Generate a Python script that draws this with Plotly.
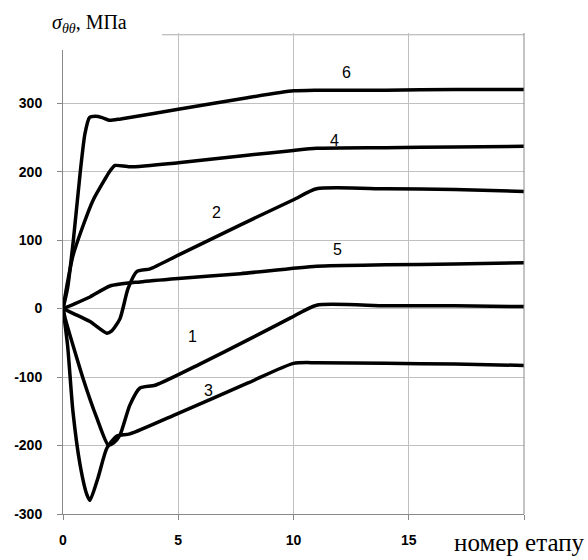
import plotly.graph_objects as go

# Curve data (stage number vs stress, MPa)
x6 = [0, 0.2, 0.45, 0.75, 0.95, 1.15, 1.4, 1.7, 2.0, 2.5, 5, 8, 10, 11, 14, 17, 20]
y6 = [0, 30, 100, 200, 255, 279, 281, 279, 275, 277, 291, 308, 318, 319, 319, 320, 320]

x4 = [0, 0.2, 0.43, 0.87, 1.3, 1.82, 2.04, 2.26, 2.9, 5, 8, 10, 11, 14, 17, 20]
y4 = [0, 39, 77, 121, 158, 189, 201, 209, 207, 213, 224, 231, 234, 235, 236, 237]

x2 = [0, 0.5, 1.17, 1.9, 2.1, 2.47, 2.82, 3.2, 3.78, 5, 7.68, 10, 11, 14, 17, 20]
y2 = [0, -8, -19, -36, -33, -15, 29, 54, 58, 78, 122, 159, 175, 175, 174, 171]

x5 = [0, 0.5, 1.17, 2.04, 3.34, 5, 7.7, 11, 14, 17, 20]
y5 = [0, 7, 17, 33, 39, 44, 51, 62, 64, 65, 67]

x1 = [0, 0.1, 0.87, 1.47, 1.96, 2.2, 2.47, 2.9, 3.34, 4, 6, 8, 9.85, 11, 14, 17, 20]
y1 = [0, -15, -102, -160, -199, -196, -185, -141, -116, -112, -80, -46, -14, 5, 4, 4, 3]

x3 = [0, 0.2, 0.43, 0.74, 1.04, 1.17, 1.52, 1.9, 2.34, 2.9, 5, 8, 10, 11, 14, 17, 20]
y3 = [0, -54, -150, -228, -272, -280, -247, -204, -186, -183, -153, -109, -80, -79, -80, -81, -83]

series = [(x6, y6), (x4, y4), (x2, y2), (x5, y5), (x1, y1), (x3, y3)]

# Curve label positions
label_text = ["6", "4", "2", "5", "1", "3"]
label_x = [12.3, 11.8, 6.64, 11.9, 5.6, 6.33]
label_y = [345, 245, 140, 86, -41, -119]

x_ticks = [0, 5, 10, 15, 20]
x_labels = ["0", "5", "10", "15", ""]
y_ticks = [-300, -200, -100, 0, 100, 200, 300, 400]
y_labels = ["-300", "-200", "-100", "0", "100", "200", "300", ""]
y_top = 400

fig = go.Figure()
for xs, ys in series:
    fig.add_trace(go.Scatter(x=xs, y=ys, mode="lines",
                             line=dict(color="black", width=3.5, shape="spline", smoothing=0.6),
                             showlegend=False, hoverinfo="skip"))

for t, lx, ly in zip(label_text, label_x, label_y):
    fig.add_annotation(x=lx, y=ly, text=t, showarrow=False,
                       font=dict(family="Liberation Sans", size=16, color="black"))

tickfont = dict(family="Liberation Sans", size=14, color="black", weight="bold")
fig.update_xaxes(range=[0, 20], tickvals=x_ticks, ticktext=x_labels,
                 showgrid=True, gridcolor="#c0c0c0", gridwidth=1,
                 showline=True, linecolor="#888888", linewidth=1,
                 ticks="outside", ticklen=5, tickcolor="#888888",
                 zeroline=False, ticklabelstandoff=8, tickfont=tickfont)
fig.update_yaxes(range=[-300, 402.5], tickvals=y_ticks, ticktext=y_labels,
                 showgrid=True, gridcolor="#c0c0c0", gridwidth=1,
                 showline=True, linecolor="#888888", linewidth=1,
                 ticks="outside", ticklen=5, tickcolor="#888888",
                 zeroline=False, ticklabelstandoff=12, tickfont=tickfont)

# top gridline and right border line (x = 20)
fig.add_shape(type="line", xref="paper", yref="y", x0=0, x1=1, y0=y_top, y1=y_top,
              line=dict(color="#999999", width=1), layer="below")
fig.add_shape(type="line", xref="paper", yref="paper", x0=1, x1=1, y0=0, y1=1,
              line=dict(color="#888888", width=1))

# white box behind the y-axis title (covers top-left corner)
fig.add_shape(type="rect", xref="paper", yref="paper",
              x0=-0.06, x1=(162 - 63) / 461, y0=(516 - 50) / 483, y1=1.07,
              fillcolor="white", line=dict(width=0), layer="above")

fig.add_annotation(xref="paper", yref="paper", x=(50 - 63) / 461, y=1 + (33 - 23) / 483,
                   xanchor="left", yanchor="middle",
                   text="<i>σ</i><sub><i>θθ</i></sub>, МПа", showarrow=False,
                   font=dict(family="Liberation Serif", size=20, color="black"))
fig.add_annotation(xref="paper", yref="paper", x=(519 - 63) / 461, y=-(545 - 516) / 483,
                   xanchor="center", yanchor="middle",
                   text="номер етапу", showarrow=False, bgcolor="white",
                   font=dict(family="Liberation Serif", size=25, color="black"))

fig.update_layout(width=588, height=560, plot_bgcolor="white", paper_bgcolor="white",
                  margin=dict(l=63, r=64, t=33, b=44))

fig.write_html("out.html", config={"displayModeBar": False},
               post_script="document.body.style.margin='0';")
